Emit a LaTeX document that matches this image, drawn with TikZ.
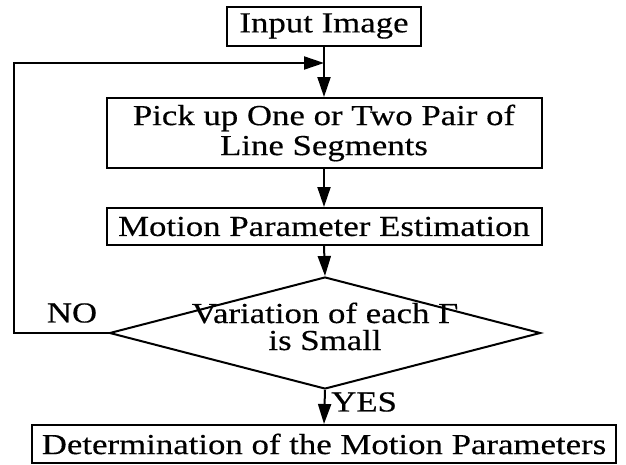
\documentclass[tikz,border=0pt]{standalone}
\usepackage{fontspec}
\setmainfont{Liberation Serif}[FakeStretch=1.2,FakeBold=0.4]
\usetikzlibrary{arrows.meta,shapes.geometric}
\begin{document}
\begin{tikzpicture}[x=1pt,y=-1pt,
  box/.style={draw, line width=2pt, inner sep=0pt, font=\fontsize{29}{30}\selectfont},
  arr/.style={line width=2pt, -{Triangle[length=20pt,width=13pt]}},
  ln/.style={line width=2pt},
  lbl/.style={inner sep=0pt, font=\fontsize{29}{30}\selectfont}]
\useasboundingbox (0,0) rectangle (626,464);
\node[box, minimum width=194pt, minimum height=39pt] (inp) at (324,26) {Input Image};
\node[box, minimum width=435pt, minimum height=70pt, align=center] (pick) at (324,133) {Pick up One or Two Pair of\\Line Segments};
\node[box, minimum width=435pt, minimum height=37pt] (mot) at (324,226.5) {Motion Parameter Estimation};
\node[draw, diamond, line width=2pt, minimum width=431pt, minimum height=112pt, inner sep=0pt] (dec) at (325,333) {};
\node[lbl, anchor=base] (dect1) at (325,323) {Variation of each Γ};
\node[lbl, anchor=base] (dect2) at (325,350) {is Small};
\node[box, minimum width=584pt, minimum height=38pt] (det) at (324,444) {Determination of the Motion Parameters};
\node[lbl, anchor=center] (no) at (72,313) {NO};
\node[lbl, anchor=west] (yes) at (331,402) {YES};
\coordinate (loopL) at (14,333);
\coordinate (loopT) at (14,63);
\coordinate (join) at (324,63);
\draw[ln] (inp.south) -- (join);
\draw[arr] (join) -- (pick.north);
\draw[arr] (pick.south) -- (mot.north);
\draw[arr] (mot.south) -- (dec.north);
\draw[arr] (dec.south) -- (det.north);
\draw[arr] (dec.west) -- (loopL) -- (loopT) -- (join);
\end{tikzpicture}
\end{document}
